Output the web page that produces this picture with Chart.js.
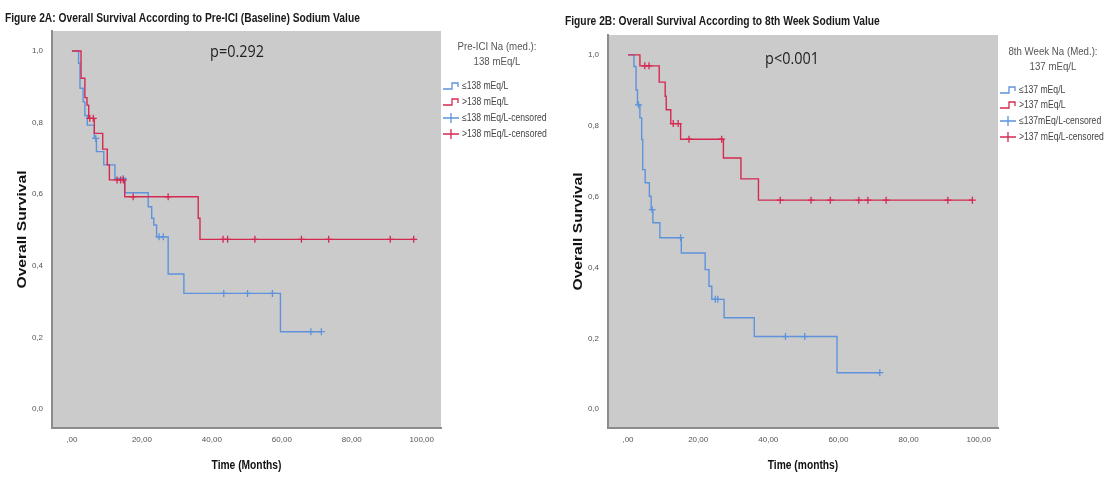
<!DOCTYPE html>
<html>
<head>
<meta charset="utf-8">
<script src="https://cdn.jsdelivr.net/npm/chart.js@4/dist/chart.umd.min.js"></script>
<style>
  body { margin: 0; background: #fff; width: 1109px; height: 477px; overflow: hidden; position: relative; }
  .box { position: absolute; top: 0; height: 477px; }
  #boxA { left: 0; width: 560px; }
  #boxB { left: 560px; width: 549px; }
</style>
</head>
<body>
<div class="box" id="boxA"><canvas id="chartA"></canvas></div>
<div class="box" id="boxB"><canvas id="chartB"></canvas></div>
<script>
// tick labels (SPSS output, comma decimals)
const xTickValues = [0, 20, 40, 60, 80, 100];
const xTickLabels = [',00', '20,00', '40,00', '60,00', '80,00', '100,00'];
const yTickValues = [0, 0.2, 0.4, 0.6, 0.8, 1.0];
const yTickLabels = ['0,0', '0,2', '0,4', '0,6', '0,8', '1,0'];

// Figure 2A - baseline sodium, <=138 (event times / survival after event)
const lowA_time = [0, 1.9, 2.3, 3.2, 3.7, 4.4, 6.4, 7.0, 9.1, 12.3, 15.1, 21.8, 22.8, 23.4, 24.2, 27.5, 32.0, 59.6];
const lowA_surv = [1.0, 0.966, 0.896, 0.858, 0.82, 0.793, 0.756, 0.719, 0.682, 0.644, 0.604, 0.565, 0.533, 0.514, 0.481, 0.377, 0.323, 0.216];
const lowA_censor = [6.8, 14.6, 24.9, 26.1, 43.4, 50.2, 57.3, 68.3, 71.3];
// Figure 2A - >138
const highA_time = [0, 2.6, 3.7, 4.3, 4.8, 6.4, 8.8, 10.1, 10.7, 15.1, 36.1, 36.6];
const highA_surv = [1.0, 0.924, 0.87, 0.849, 0.812, 0.77, 0.726, 0.682, 0.64, 0.593, 0.533, 0.474];
const highA_censor = [5.1, 6.1, 12.9, 13.9, 14.7, 17.5, 27.5, 43.2, 44.5, 52.3, 65.6, 73.4, 91.0, 97.7];

// Figure 2B - 8th week sodium, <=137
const lowB_time = [0, 1.7, 2.3, 2.7, 3.4, 3.9, 4.2, 4.9, 6.1, 6.6, 7.1, 9.1, 15.2, 22.0, 23.1, 23.9, 27.4, 36.0, 59.6];
const lowB_surv = [1.0, 0.967, 0.901, 0.859, 0.822, 0.761, 0.676, 0.639, 0.601, 0.563, 0.526, 0.484, 0.441, 0.394, 0.347, 0.31, 0.258, 0.205, 0.103];
const lowB_censor = [3.0, 6.9, 15.0, 24.9, 25.6, 44.9, 50.4, 71.8];
// Figure 2B - >137
const highB_time = [0, 3.4, 8.9, 10.6, 10.9, 12.2, 15.0, 27.2, 32.2, 37.2];
const highB_surv = [1.0, 0.969, 0.923, 0.883, 0.845, 0.806, 0.762, 0.709, 0.65, 0.59];
const highB_censor = [4.8, 6.0, 12.9, 14.3, 17.4, 26.7, 43.4, 52.2, 57.7, 65.8, 68.4, 73.6, 91.2, 98.2];

const BLUE = '#5e93dc';
const RED = '#d42a52';
const SANS = "'Liberation Sans', Arial, sans-serif";

function survivalAt(times, surv, t) {
    let s = surv[0];
    for (let i = 0; i < times.length; i++) {
        if (times[i] <= t) s = surv[i];
    }
    return s;
}

function stepPoints(times, surv, censor) {
    const pts = times.map((t, i) => ({ x: t, y: surv[i] }));
    const last = censor[censor.length - 1];
    if (last > times[times.length - 1]) pts.push({ x: last, y: surv[surv.length - 1] });
    return pts;
}

function censorPoints(times, surv, censor) {
    return censor.map(c => ({ x: c, y: survivalAt(times, surv, c) }));
}

// SPSS uses a condensed face; squeeze (or stretch) the text horizontally
function narrowText(ctx, text, x, y, sx, align, angle) {
    ctx.save();
    ctx.translate(x, y);
    if (angle) ctx.rotate(angle);
    ctx.scale(sx, 1);
    ctx.textAlign = align;
    ctx.fillText(text, 0, 0);
    ctx.restore();
}

// background, figure title, p-value, axis titles and legend
const decorPlugin = {
    id: 'decor',
    beforeDraw(chart, args, opts) {
        const a = chart.chartArea;
        const ctx = chart.ctx;
        ctx.save();
        ctx.fillStyle = '#cbcbcb';
        ctx.fillRect(a.left, a.top, a.right - a.left, a.bottom - a.top);
        ctx.restore();
    },
    afterDraw(chart, args, opts) {
        const ctx = chart.ctx;
        const a = chart.chartArea;
        ctx.save();
        ctx.textBaseline = 'middle';

        ctx.fillStyle = '#1a1a1a';
        ctx.font = 'bold 12.5px ' + SANS;
        narrowText(ctx, opts.figTitle, opts.figX, opts.figY, 0.82, 'left');

        ctx.fillStyle = '#111';
        ctx.font = 'bold 12.5px ' + SANS;
        narrowText(ctx, opts.xTitle, (a.left + a.right) / 2, 466, 0.82, 'center');

        ctx.font = 'bold 13px ' + SANS;
        narrowText(ctx, 'Overall Survival', opts.yTitleX, (a.top + a.bottom) / 2, 1.2, 'center', -Math.PI / 2);

        ctx.font = '16px "Open Sans", Arial, sans-serif';
        ctx.fillStyle = '#222';
        narrowText(ctx, opts.pText, opts.pX, opts.pY, 0.9, 'center');

        ctx.font = '11px ' + SANS;
        ctx.fillStyle = '#555';
        opts.legTitle.forEach((t, i) => narrowText(ctx, t, opts.legCenter, opts.legTitleY[i], 0.88, 'center'));

        ctx.font = '10px ' + SANS;
        opts.items.forEach((it, i) => {
            const y = opts.itemY[i];
            const x = opts.symX;
            ctx.strokeStyle = it.color;
            ctx.lineWidth = 1.3;
            ctx.beginPath();
            if (it.kind === 'step') {
                ctx.moveTo(x, y + 3);
                ctx.lineTo(x + 9, y + 3);
                ctx.lineTo(x + 9, y - 3);
                ctx.lineTo(x + 15, y - 3);
                ctx.lineTo(x + 15, y + 1);
            } else {
                ctx.moveTo(x, y);
                ctx.lineTo(x + 16, y);
                ctx.moveTo(x + 8, y - 5);
                ctx.lineTo(x + 8, y + 5);
            }
            ctx.stroke();
            ctx.fillStyle = '#444';
            narrowText(ctx, it.label, x + 19, y, 0.86, 'left');
        });
        ctx.restore();
    }
};

function buildConfig(low, high, layout, decor) {
    return {
        type: 'line',
        data: {
            datasets: [
                { data: censorPoints(high.time, high.surv, high.censor), showLine: false,
                  pointStyle: 'cross', pointRadius: 3.5, pointBorderWidth: 1.3,
                  borderColor: RED, backgroundColor: RED, order: 0 },
                { data: censorPoints(low.time, low.surv, low.censor), showLine: false,
                  pointStyle: 'cross', pointRadius: 3.5, pointBorderWidth: 1.3,
                  borderColor: BLUE, backgroundColor: BLUE, order: 0 },
                { data: stepPoints(high.time, high.surv, high.censor), stepped: 'before',
                  borderColor: RED, borderWidth: 1.4, pointRadius: 0, order: 1 },
                { data: stepPoints(low.time, low.surv, low.censor), stepped: 'before',
                  borderColor: BLUE, borderWidth: 1.4, pointRadius: 0, order: 2 }
            ]
        },
        options: {
            responsive: true,
            maintainAspectRatio: false,
            animation: false,
            layout: { padding: { left: layout.padLeft, top: layout.top, right: layout.padRight, bottom: 0 } },
            plugins: { legend: { display: false }, tooltip: { enabled: false }, decor: decor },
            scales: {
                x: {
                    type: 'linear', min: -5.7, max: 105.5,
                    afterBuildTicks: s => { s.ticks = xTickValues.map(v => ({ value: v })); },
                    afterFit: s => { s.height = 49; },
                    grid: { display: false, drawTicks: false },
                    border: { display: true, color: '#8c8c8c', width: 2 },
                    ticks: { callback: (v) => xTickLabels[xTickValues.indexOf(v)], color: '#555',
                             font: { family: SANS, size: 8 }, padding: 7, maxRotation: 0 }
                },
                y: {
                    min: -0.053, max: 1.056,
                    afterBuildTicks: s => { s.ticks = yTickValues.map(v => ({ value: v })); },
                    afterFit: s => { s.width = layout.yWidth; },
                    grid: { display: false, drawTicks: false },
                    border: { display: true, color: '#8c8c8c', width: 2 },
                    ticks: { callback: (v) => yTickLabels[yTickValues.indexOf(v)], color: '#555',
                             font: { family: SANS, size: 8 }, padding: 9 }
                }
            }
        },
        plugins: [decorPlugin]
    };
}

new Chart(document.getElementById('chartA'), buildConfig(
    { time: lowA_time, surv: lowA_surv, censor: lowA_censor },
    { time: highA_time, surv: highA_surv, censor: highA_censor },
    { padLeft: 14, yWidth: 38, top: 31, padRight: 119 },
    {
        figTitle: 'Figure 2A: Overall Survival According to Pre-ICI (Baseline) Sodium Value',
        figX: 5, figY: 19,
        xTitle: 'Time (Months)', yTitleX: 22,
        pText: 'p=0.292', pX: 237, pY: 52,
        legTitle: ['Pre-ICI Na (med.):', '138 mEq/L'], legCenter: 497, legTitleY: [47, 62],
        symX: 443, itemY: [86, 102, 118, 134],
        items: [
            { kind: 'step', color: BLUE, label: '≤138 mEq/L' },
            { kind: 'step', color: RED, label: '>138 mEq/L' },
            { kind: 'cross', color: BLUE, label: '≤138 mEq/L-censored' },
            { kind: 'cross', color: RED, label: '>138 mEq/L-censored' }
        ]
    }
));

new Chart(document.getElementById('chartB'), buildConfig(
    { time: lowB_time, surv: lowB_surv, censor: lowB_censor },
    { time: highB_time, surv: highB_surv, censor: highB_censor },
    { padLeft: 10, yWidth: 38, top: 35, padRight: 111 },
    {
        figTitle: 'Figure 2B: Overall Survival According to 8th Week Sodium Value',
        figX: 5, figY: 22,
        xTitle: 'Time (months)', yTitleX: 18,
        pText: 'p<0.001', pX: 232, pY: 59,
        legTitle: ['8th Week Na (Med.):', '137 mEq/L'], legCenter: 493, legTitleY: [52, 67],
        symX: 440, itemY: [90, 105, 121, 137],
        items: [
            { kind: 'step', color: BLUE, label: '≤137 mEq/L' },
            { kind: 'step', color: RED, label: '>137 mEq/L' },
            { kind: 'cross', color: BLUE, label: '≤137mEq/L-censored' },
            { kind: 'cross', color: RED, label: '>137 mEq/L-censored' }
        ]
    }
));
</script>
</body>
</html>
